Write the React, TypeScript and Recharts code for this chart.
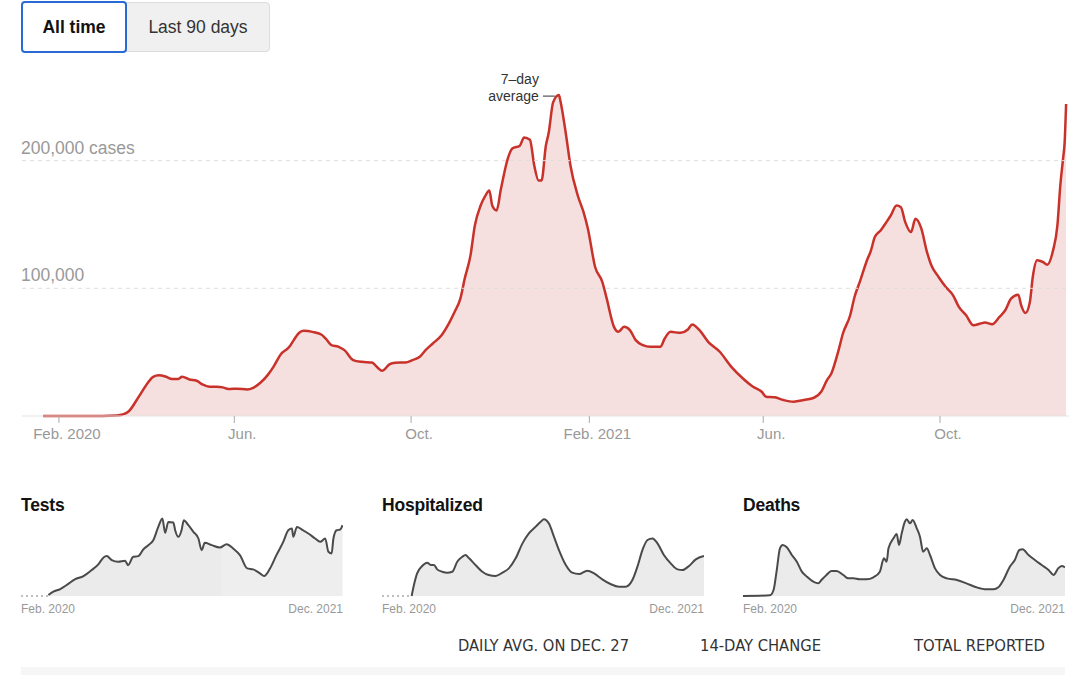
import React from 'react';
import { ComposedChart, Area, Line, XAxis, YAxis, ReferenceLine, ReferenceDot, ReferenceArea } from 'recharts';

// Days counted from Feb. 1, 2020
const caseDays = [-11, 30, 40, 44, 48, 55, 61, 65, 69, 74, 78, 82, 85, 90, 95, 99, 104, 109, 113, 117, 123, 130, 134, 139, 144, 148, 153, 159, 162, 166, 169, 175, 181, 184, 188, 193, 197, 203, 209, 216, 220, 223, 228, 232, 239, 244, 249, 253, 258, 264, 269, 273, 277, 280, 284, 287, 291, 294, 297, 299, 302, 305, 310, 313, 318, 321, 325, 328, 331, 333, 336, 338, 341, 345, 346, 350, 353, 358, 362, 365, 370, 375, 378, 383, 386, 390, 394, 398, 403, 408, 415, 418, 422, 429, 434, 437, 442, 448, 456, 464, 472, 479, 485, 488, 494, 500, 507, 514, 521, 526, 530, 533, 538, 541, 546, 549, 553, 558, 560, 563, 567, 571, 574, 578, 581, 584, 588, 591, 595, 599, 602, 607, 612, 617, 621, 626, 631, 636, 639, 644, 649, 653, 657, 662, 664, 667, 670, 672, 675, 679, 682, 686, 689, 691, 693, 694, 695];
const caseValues = [0, 50, 400, 1200, 3500, 15000, 25500, 30700, 32000, 30700, 28900, 28900, 30700, 28600, 27600, 24700, 22900, 22900, 22400, 21100, 21400, 20800, 22100, 26000, 32000, 38500, 48200, 54200, 59400, 65400, 66700, 65900, 63800, 60700, 55500, 54200, 51600, 43800, 42400, 41900, 37800, 35400, 40400, 41700, 41900, 43800, 46400, 51600, 56800, 63300, 72400, 81500, 91900, 107600, 125800, 149200, 164800, 171900, 176600, 164800, 160900, 177900, 202600, 209600, 211700, 218200, 216400, 196100, 184400, 184400, 211700, 222000, 245600, 251300, 246900, 219500, 196000, 172700, 159600, 146600, 116700, 104900, 91900, 69800, 65900, 69800, 67200, 59400, 55500, 54200, 54200, 60700, 65900, 65100, 67700, 71600, 67200, 58100, 50300, 38500, 29400, 22900, 19000, 15100, 14600, 12500, 11200, 12500, 14300, 19000, 28100, 33300, 51600, 64600, 78900, 93200, 106200, 123200, 128400, 140100, 145300, 151800, 157000, 164800, 163500, 151800, 144000, 154400, 147100, 128400, 118000, 108900, 101000, 94500, 85400, 78900, 71100, 72400, 73200, 71900, 77600, 82800, 91900, 95000, 86700, 80700, 89300, 108900, 121900, 120600, 118500, 129700, 149200, 180500, 202600, 214300, 244300];

const mainTickDays = [0, 121, 243, 366, 486, 608];
const mainTickLabels = ['Feb. 2020', 'Jun.', 'Oct.', 'Feb. 2021', 'Jun.', 'Oct.'];
const yTickValues = [100000, 200000];
const yTickLabels = ['100,000', '200,000 cases'];
const peakDay = 345;
const peakValue = 251300;
const annotationLines = ['7–day', 'average'];

const testDays = [49, 60, 75, 89, 107, 126, 144, 159, 170, 177, 188, 202, 217, 224, 235, 246, 257, 268, 279, 290, 299, 305, 312, 323, 327, 334, 341, 346, 356, 367, 378, 385, 392, 407, 425, 440, 454, 469, 485, 498, 513, 522, 535, 549, 564, 575, 583, 586, 594, 605, 619, 634, 645, 656, 663, 670, 674, 681, 689, 694];
const testValues = [24000, 104000, 168000, 264000, 400000, 480000, 624000, 768000, 928000, 960000, 864000, 824000, 848000, 744000, 944000, 960000, 1120000, 1224000, 1344000, 1664000, 1864000, 1520000, 1784000, 1768000, 1584000, 1424000, 1584000, 1824000, 1704000, 1544000, 1384000, 1104000, 1280000, 1224000, 1168000, 1248000, 1144000, 984000, 664000, 640000, 544000, 480000, 664000, 984000, 1304000, 1584000, 1624000, 1424000, 1664000, 1600000, 1504000, 1384000, 1304000, 1384000, 1064000, 1024000, 1384000, 1584000, 1600000, 1704000];

const hospDays = [54, 59, 66, 77, 88, 96, 103, 110, 121, 132, 143, 154, 165, 172, 180, 194, 209, 223, 238, 253, 267, 282, 297, 311, 326, 337, 344, 355, 366, 377, 392, 406, 421, 439, 454, 472, 490, 509, 523, 538, 549, 560, 571, 582, 593, 607, 622, 637, 648, 662, 677, 695];
const hospValues = [0, 17900, 36900, 48900, 54300, 50500, 50500, 43400, 39600, 38000, 39600, 55900, 64000, 66800, 61400, 50500, 39600, 34200, 32600, 38000, 45000, 61400, 85800, 102000, 113000, 121000, 125000, 118000, 96700, 74900, 50500, 38000, 35800, 41300, 36900, 27200, 19500, 15200, 15200, 26100, 47800, 74900, 91200, 93900, 85800, 66800, 53200, 43400, 42400, 48900, 59700, 65200];

const deathDays = [-11, 48, 56, 63, 70, 76, 85, 96, 107, 118, 129, 143, 154, 161, 172, 183, 194, 209, 220, 231, 245, 260, 275, 289, 298, 304, 308, 319, 326, 331, 337, 344, 348, 355, 361, 370, 377, 384, 392, 399, 410, 421, 436, 458, 479, 501, 523, 538, 549, 560, 574, 585, 595, 602, 615, 629, 644, 659, 670, 680, 688, 695];
const deathValues = [0, 30, 266, 1150, 2116, 2264, 2160, 1820, 1524, 1080, 858, 636, 562, 710, 932, 1110, 1110, 932, 784, 784, 740, 740, 829, 1080, 1672, 1524, 2116, 2560, 2753, 2264, 2782, 3300, 3404, 3226, 3374, 3004, 2634, 1968, 2116, 1820, 1228, 932, 784, 710, 562, 385, 296, 296, 385, 710, 1302, 1598, 2042, 2072, 1820, 1598, 1376, 1154, 932, 1228, 1332, 1272];

const smallTickDays = [-11, 695];
const smallTickLabels = ['Feb. 2020', 'Dec. 2021'];
const statHeaders = ['DAILY AVG. ON DEC. 27', '14-DAY CHANGE', 'TOTAL REPORTED'];
const statX = [458, 700, 914];
const statW = [171, 121, 131];

const FONT = '"Liberation Sans", Arial, Helvetica, sans-serif';

const caseData = caseDays.map((d, i) => ({ day: d, cases: caseValues[i] }));

function buildSmall(days: number[], values: number[], dottedStart: boolean) {
  const rows: any[] = [];
  if (dottedStart) {
    rows.push({ day: -11, pre: 0 });
  }
  days.forEach((d, i) => {
    const r: any = { day: d, v: values[i] };
    if (dottedStart && i === 0) r.pre = 0;
    rows.push(r);
  });
  return rows;
}

const MainXTick = (props: any) => {
  const { x, y, payload } = props;
  const idx = mainTickDays.indexOf(payload.value);
  return (
    <text x={x + 8} y={y + 14} textAnchor="middle" fill="#999" fontSize={15} fontFamily={FONT}>
      {mainTickLabels[idx]}
    </text>
  );
};

const makeGridLabel = (label: string) => (p: any) => {
  const vb = p.viewBox || {};
  return (
    <text x={(vb.x ?? 22) - 1} y={(vb.y ?? 0) - 7} textAnchor="start" fill="#999" fontSize={17.5} fontFamily={FONT}>
      {label}
    </text>
  );
};

const SmallXTick = (props: any) => {
  const { x, y, payload } = props;
  const idx = smallTickDays.indexOf(payload.value);
  return (
    <text x={x} y={y + 9} textAnchor={idx === 0 ? 'start' : 'end'} fill="#999" fontSize={12} fontFamily={FONT}>
      {smallTickLabels[idx]}
    </text>
  );
};

const Annotation = (props: any) => {
  const { cx, cy } = props;
  if (cx == null || cy == null) return <g />;
  return (
    <g>
      <text x={cx - 20} y={cy - 11} textAnchor="end" fill="#333" fontSize={14} fontFamily={FONT}>{annotationLines[0]}</text>
      <text x={cx - 20} y={cy + 6} textAnchor="end" fill="#333" fontSize={14} fontFamily={FONT}>{annotationLines[1]}</text>
      <line x1={cx - 16} x2={cx - 4} y1={cy + 1} y2={cy + 1} stroke="#333" strokeWidth={1} />
    </g>
  );
};

function SmallChart(props: { title: string; left: number; days: number[]; values: number[]; max: number; dotted: boolean; band?: boolean }) {
  const data = buildSmall(props.days, props.values, props.dotted);
  return (
    <>
      <div style={{ position: 'absolute', left: props.left, top: 497, fontFamily: FONT, fontWeight: 700, fontSize: 17.5, lineHeight: '17.5px', color: '#121212', letterSpacing: -0.2 }}>
        {props.title}
      </div>
      <div style={{ position: 'absolute', left: props.left, top: 510 }}>
        <ComposedChart width={322} height={110} data={data} margin={{ top: 5, right: 0, bottom: 0, left: 0 }}>
          <XAxis dataKey="day" type="number" domain={[-11, 695]} ticks={smallTickDays} tick={<SmallXTick />} axisLine={false} tickLine={false} height={24} interval={0} allowDataOverflow />
          <YAxis hide domain={[0, props.max]} />
          <Area type="monotone" dataKey="v" stroke="none" fill="#ebebeb" fillOpacity={1} isAnimationActive={false} connectNulls={false} />
          {props.band ? <ReferenceArea x1={429} x2={695} y1={0} y2={props.max} fill="#ffffff" fillOpacity={0.18} stroke="none" /> : null}
          <Line type="monotone" dataKey="v" stroke="#4a4a4a" strokeWidth={2} dot={false} isAnimationActive={false} connectNulls={false} />
          {props.dotted ? <Line type="linear" dataKey="pre" stroke="#aaa" strokeWidth={1.5} strokeDasharray="2 3" dot={false} isAnimationActive={false} connectNulls={false} /> : null}
        </ComposedChart>
      </div>
    </>
  );
}

export default function App() {
  return (
    <div style={{ position: 'absolute', left: 0, top: 0, width: 1080, height: 675, background: '#fff', fontFamily: FONT, overflow: 'hidden' }}>
      <div style={{ position: 'absolute', left: 21, top: 1, width: 106, height: 52, boxSizing: 'border-box', border: '2px solid #2a6bd3', borderRadius: 4, background: '#fff', display: 'flex', alignItems: 'center', justifyContent: 'center', fontWeight: 700, fontSize: 17.5, color: '#121212', zIndex: 2 }}>
        All time
      </div>
      <div style={{ position: 'absolute', left: 126, top: 2, width: 144, height: 50, boxSizing: 'border-box', border: '1px solid #dcdcdc', borderRadius: '0 4px 4px 0', background: '#f0f0f0', display: 'flex', alignItems: 'center', justifyContent: 'center', fontSize: 17.5, color: '#333' }}>
        Last 90 days
      </div>

      <div style={{ position: 'absolute', left: 0, top: 0 }}>
        <ComposedChart width={1080} height={445} data={caseData} margin={{ top: 84, right: 11, bottom: 0, left: 22 }}>
          <XAxis dataKey="day" type="number" domain={[-25.5, 697]} ticks={mainTickDays} interval={0} tick={<MainXTick />} axisLine={{ stroke: '#e3e3e3' }} tickLine={{ stroke: '#aaa' }} tickSize={7} tickMargin={2} height={29} allowDataOverflow />
          <YAxis hide domain={[0, 260000]} />
          {yTickValues.map((v, i) => (
            <ReferenceLine key={v} y={v} stroke="#dedede" strokeDasharray="4 4" label={{ content: makeGridLabel(yTickLabels[i]) } as any} />
          ))}
          <Area type="monotone" dataKey="cases" stroke="#c8322a" strokeWidth={2.5} fill="#f6dfdf" fillOpacity={1} isAnimationActive={false} />
          <ReferenceDot x={peakDay} y={peakValue} r={0} shape={(p: any) => <Annotation {...p} />} />
        </ComposedChart>
      </div>

      <SmallChart title="Tests" left={21} days={testDays} values={testValues} max={1950000} dotted band />
      <SmallChart title="Hospitalized" left={382} days={hospDays} values={hospValues} max={132000} dotted />
      <SmallChart title="Deaths" left={743} days={deathDays} values={deathValues} max={3595} dotted={false} />

      <svg style={{ position: 'absolute', left: 0, top: 620 }} width={1080} height={55}>
        {statHeaders.map((h, i) => (
          <text key={h} x={statX[i]} y={31} textLength={statW[i]} lengthAdjust="spacingAndGlyphs" fontSize={15} fill="#333" fontFamily={'"Liberation Sans Narrow", "DejaVu Sans Condensed", ' + FONT}>
            {h}
          </text>
        ))}
        <rect x={21} y={47} width={1044} height={8} fill="#f6f6f6" />
      </svg>
    </div>
  );
}
